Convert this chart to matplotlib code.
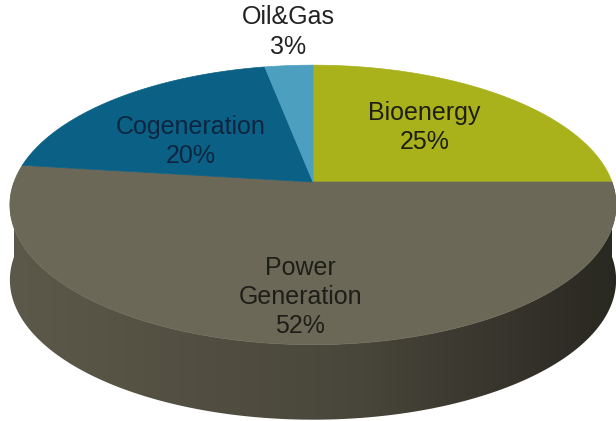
import numpy as np
import matplotlib.pyplot as plt
from matplotlib.patches import Polygon

labels = ['Bioenergy', 'Power\nGeneration', 'Cogeneration', 'Oil&Gas']
shares = [25, 52, 20, 3]
colors = ['#a9b11b', '#6b6857', '#0b6185', '#4d9fc0']
text_colors = ['#1e1e12', '#1e1e18', '#0d2540', '#222222']

plt.rcParams['font.family'] = ['Liberation Sans', 'DejaVu Sans']

# pseudo-3D pie geometry, in pixels
cx, cy = 313, 182
sx, sy, k = 299, 136, 0.164
depth = 75


def project(theta, r=1.0):
    u, v = r * np.cos(theta), r * np.sin(theta)
    d = 1 + k * v
    return cx + sx * u / d, cy - sy * v / d


fig = plt.figure(figsize=(6.16, 4.21), dpi=100)
ax = fig.add_axes([0, 0, 1, 1])

fracs = np.array(shares) / np.sum(shares)
ends = np.pi / 2 - 2 * np.pi * np.cumsum(fracs)
starts = np.concatenate([[np.pi / 2], ends[:-1]])

# side wall: front half, shaded left to right
stops_x = np.array([0.0, 0.55, 1.0])
stops_c = np.array([[92, 89, 74], [72, 69, 58], [40, 39, 32]]) / 255
gx = np.linspace(0, 1, 400)
grad = np.stack([np.interp(gx ** 1.1, stops_x, stops_c[:, j]) for j in range(3)], axis=-1)[None, :, :]

for i, (a0, a1) in enumerate(zip(starts, ends)):
    for shift in (0, 2 * np.pi):
        lo, hi = max(a1 + shift, -np.pi), min(a0 + shift, 0)
        if hi <= lo:
            continue
        th = np.linspace(lo, hi, 300)
        xs, ys = project(th)
        pts = list(zip(xs, ys)) + list(zip(xs[::-1], ys[::-1] + depth))
        clip = Polygon(pts, closed=True, facecolor='none', edgecolor='none',
                       transform=ax.transData)
        ax.add_patch(clip)
        im = ax.imshow(grad, extent=(cx - sx * 1.03, cx + sx * 1.03, cy + sy * 1.3 + depth, cy - sy),
                       aspect='auto', interpolation='bilinear', zorder=1)
        im.set_clip_path(clip)

# top faces
for i, (a0, a1) in enumerate(zip(starts, ends)):
    th = np.linspace(a0, a1, 300)
    xs, ys = project(th)
    pts = [(cx, cy)] + list(zip(xs, ys))
    ax.add_patch(Polygon(pts, closed=True, facecolor=colors[i], edgecolor=colors[i],
                         lw=0.5, zorder=2))

# labels
label_r = [0.586, 0.744, 0.531, 1.35]
label_shift = [2.0, 0.7, 7.1, -1.1]
for i, (a0, a1) in enumerate(zip(starts, ends)):
    mid = 0.5 * (a0 + a1) + np.deg2rad(label_shift[i])
    x, y = project(mid, label_r[i])
    ax.text(x, y, f'{labels[i]}\n{shares[i]}%', ha='center', va='center',
            fontsize=18, color=text_colors[i], linespacing=1.28, zorder=3)

ax.set_xlim(0, 616)
ax.set_ylim(421, 0)
ax.axis('off')

fig.savefig('out.png', dpi=100)
